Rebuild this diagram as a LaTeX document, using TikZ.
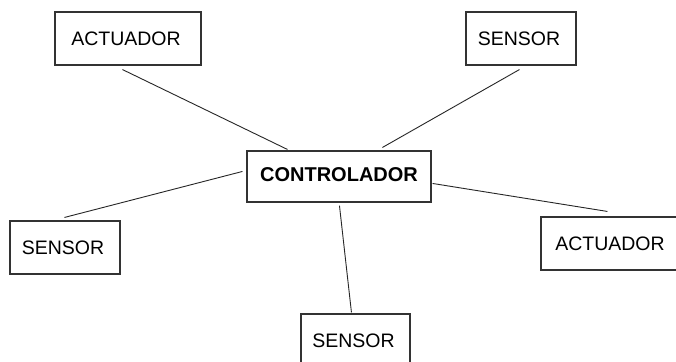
\documentclass[tikz,border=0pt]{standalone}
\usepackage{fontspec}
\setmainfont{Liberation Sans}
\begin{document}
\begin{tikzpicture}[x=1pt,y=-1pt,
  box/.style={draw=black!80,line width=1.1pt,inner sep=0pt,font=\fontsize{19.5}{22}\selectfont},
  link/.style={draw=black!85,line width=0.9pt}]
\clip (0,0) rectangle (676,361);
\fill[white] (0,0) rectangle (676,361);
\node[box,minimum width=146pt,minimum height=53pt] (act1) at (128,38.5) {\hspace*{-4pt}ACTUADOR};
\node[box,minimum width=110pt,minimum height=53pt] (sen1) at (521,38.5) {\hspace*{-4pt}SENSOR};
\node[box,minimum width=184pt,minimum height=51pt,font=\fontsize{20}{22}\selectfont\bfseries] (ctrl) at (339,176.5) {\raisebox{3pt}{CONTROLADOR}};
\node[box,minimum width=110pt,minimum height=53pt] (sen2) at (65,247.5) {\hspace*{-4pt}SENSOR};
\node[box,minimum width=146pt,minimum height=53pt] (act2) at (614,243.5) {\hspace*{-8pt}ACTUADOR};
\node[box,minimum width=109pt,minimum height=53pt] (sen3) at (355.5,340.5) {\hspace*{-4pt}SENSOR};
\draw[link] ([xshift=68pt,yshift=-4pt]act1.south west) -- ([xshift=41pt,yshift=1pt]ctrl.north west);
\draw[link] ([xshift=54pt,yshift=-4pt]sen1.south west) -- ([xshift=136pt,yshift=3pt]ctrl.north west);
\draw[link] ([xshift=55pt,yshift=3pt]sen2.north west) -- ([xshift=-4pt,yshift=-21pt]ctrl.north west);
\draw[link] ([xshift=1pt,yshift=-33pt]ctrl.north east) -- ([xshift=67pt,yshift=5pt]act2.north west);
\draw[link] ([xshift=93pt,yshift=-3pt]ctrl.south west) -- ([xshift=51pt,yshift=1pt]sen3.north west);
\end{tikzpicture}
\end{document}
